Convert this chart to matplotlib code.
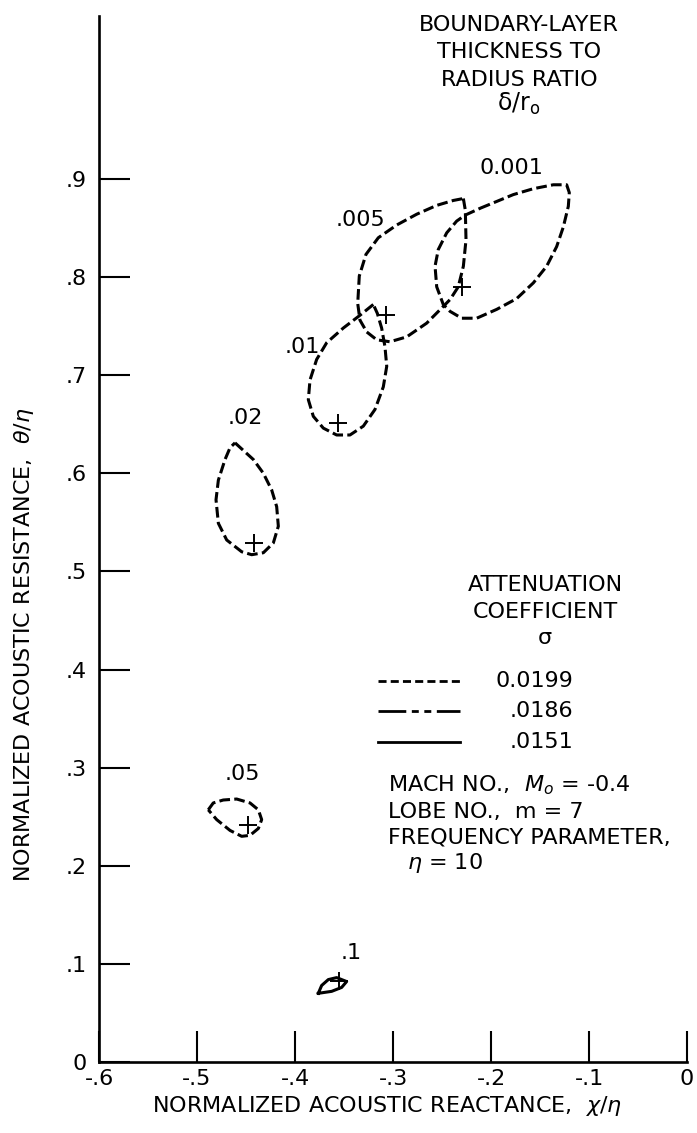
import matplotlib
matplotlib.use('Agg')
import matplotlib.pyplot as plt
import numpy as np

plt.rcParams['font.family'] = ['DejaVu Sans']
plt.rcParams['mathtext.fontset'] = 'dejavusans'

# ---- data (normalized reactance x, resistance y) ----
lobe_0001_x = [-0.2112, -0.1942, -0.1772, -0.1568, -0.1364, -0.1228, -0.1201, -0.1211,
               -0.1262, -0.1330, -0.1432, -0.1568, -0.1738, -0.1942, -0.2146, -0.2299,
               -0.2418, -0.2487, -0.2554, -0.2571, -0.2538, -0.2452, -0.2350, -0.2265]
lobe_0001_y = [0.870, 0.877, 0.884, 0.890, 0.894, 0.894, 0.886, 0.872,
               0.851, 0.831, 0.811, 0.794, 0.778, 0.767, 0.758, 0.758,
               0.765, 0.772, 0.790, 0.811, 0.828, 0.845, 0.857, 0.863]

lobe_005_x = [-0.2282, -0.2262, -0.2255, -0.2282, -0.2334, -0.2418, -0.2487, -0.2656,
              -0.2860, -0.3031, -0.3166, -0.3268, -0.3337, -0.3360, -0.3344, -0.3276,
              -0.3150, -0.2962, -0.2758, -0.2554, -0.2385]
lobe_005_y = [0.880, 0.868, 0.838, 0.811, 0.790, 0.777, 0.770, 0.753,
              0.739, 0.734, 0.736, 0.744, 0.756, 0.773, 0.801, 0.823,
              0.840, 0.853, 0.864, 0.873, 0.878]

lobe_01_x = [-0.3201, -0.3337, -0.3507, -0.3677, -0.3779, -0.3847, -0.3864, -0.3813,
             -0.3711, -0.3575, -0.3439, -0.3303, -0.3184, -0.3099, -0.3064, -0.3082,
             -0.3116, -0.3160]
lobe_01_y = [0.772, 0.761, 0.748, 0.733, 0.716, 0.695, 0.675, 0.658,
             0.646, 0.639, 0.639, 0.648, 0.665, 0.688, 0.709, 0.729,
             0.748, 0.763]

lobe_02_x = [-0.4612, -0.4425, -0.4323, -0.4238, -0.4187, -0.4170, -0.4221, -0.4323,
             -0.4442, -0.4544, -0.4697, -0.4782, -0.4806, -0.4782, -0.4714, -0.4663]
lobe_02_y = [0.631, 0.614, 0.600, 0.583, 0.566, 0.546, 0.529, 0.519,
             0.517, 0.520, 0.532, 0.549, 0.573, 0.593, 0.614, 0.626]

lobe_05_x = [-0.4885, -0.4834, -0.4732, -0.4595, -0.4459, -0.4374, -0.4340, -0.4374,
             -0.4459, -0.4544, -0.4663, -0.4799]
lobe_05_y = [0.257, 0.264, 0.267, 0.268, 0.264, 0.257, 0.247, 0.238,
             0.231, 0.230, 0.236, 0.247]

lobe_1_x = [-0.3762, -0.3728, -0.3660, -0.3575, -0.3473, -0.3524, -0.3626]
lobe_1_y = [0.070, 0.078, 0.084, 0.086, 0.082, 0.076, 0.072]

opt_x = [-0.230, -0.307, -0.356, -0.442, -0.448, -0.355]
opt_y = [0.790, 0.761, 0.651, 0.529, 0.242, 0.083]

thickness_labels = ['0.001', '.005', '.01', '.02', '.05', '.1']
label_x = [-0.1796, -0.3327, -0.3929, -0.4510, -0.4541, -0.3429]
label_y = [0.911, 0.858, 0.729, 0.656, 0.294, 0.111]

sigma_labels = ['0.0199', '.0186', '.0151']

x_ticks = [-0.6, -0.5, -0.4, -0.3, -0.2, -0.1, 0.0]
x_tick_labels = ['-.6', '-.5', '-.4', '-.3', '-.2', '-.1', '0']
y_ticks = [0.0, 0.1, 0.2, 0.3, 0.4, 0.5, 0.6, 0.7, 0.8, 0.9]
y_tick_labels = ['0', '.1', '.2', '.3', '.4', '.5', '.6', '.7', '.8', '.9']

# ---- figure ----
W, H = 697, 1133
fig = plt.figure(figsize=(W / 100, H / 100), dpi=100)
ax = fig.add_axes([99 / W, 71 / H, 588 / W, 1046 / H])
ax.set_xlim(-0.6, 0.0)
ax.set_ylim(0.0, 1.066)
for s in ['top', 'right']:
    ax.spines[s].set_visible(False)
for s in ['left', 'bottom']:
    ax.spines[s].set_linewidth(1.9)

ax.set_xticks(x_ticks)
ax.set_xticklabels(x_tick_labels)
ax.set_yticks(y_ticks)
ax.set_yticklabels(y_tick_labels)
ax.tick_params(direction='in', length=22, width=1.5, labelsize=16)
ax.tick_params(axis='x', pad=5)
ax.tick_params(axis='y', pad=9)

dash = (0, (3.5, 1.4))
lobes = [(lobe_0001_x, lobe_0001_y), (lobe_005_x, lobe_005_y), (lobe_01_x, lobe_01_y),
         (lobe_02_x, lobe_02_y), (lobe_05_x, lobe_05_y)]
for lx, ly in lobes:
    ax.plot(np.append(lx, lx[0]), np.append(ly, ly[0]), color='black', lw=2.2, ls=dash)
ax.plot(np.append(lobe_1_x, lobe_1_x[0]), np.append(lobe_1_y, lobe_1_y[0]),
        color='black', lw=2.2, ls='-')

ax.plot(opt_x, opt_y, ls='none', marker='+', ms=13, mew=1.4, color='black')

fs = 16
for t, x, y in zip(thickness_labels, label_x, label_y):
    ax.text(x, y, t, fontsize=fs, ha='center', va='center')


def ftext(px, py, s, **kw):
    fig.text(px / W, 1 - py / H, s, **kw)


ftext(519, 25, 'BOUNDARY-LAYER', fontsize=fs, ha='center', va='center')
ftext(519, 52, 'THICKNESS TO', fontsize=fs, ha='center', va='center')
ftext(519, 80, 'RADIUS RATIO', fontsize=fs, ha='center', va='center')
ftext(519, 104, r'$\mathrm{\delta/r_o}$', fontsize=fs + 1, ha='center', va='center')

ftext(545, 585, 'ATTENUATION', fontsize=fs, ha='center', va='center')
ftext(545, 612, 'COEFFICIENT', fontsize=fs, ha='center', va='center')
ftext(545, 638, r'$\mathrm{\sigma}$', fontsize=fs, ha='center', va='center')

leg_y = [681, 711, 742]
leg_styles = [(0, (2.9, 1.5)), (0, (10, 2, 2.5, 2, 2.5, 2)), '-']
for yy, st, lab in zip(leg_y, leg_styles, sigma_labels):
    fig.add_artist(plt.Line2D([378 / W, 460 / W], [1 - yy / H, 1 - yy / H],
                              color='black', lw=2.0, ls=st))
    ftext(573, yy, lab, fontsize=fs, ha='right', va='center')

ftext(388, 785, r'MACH NO.,  $M_o$ = -0.4', fontsize=fs, ha='left', va='center')
ftext(388, 812, 'LOBE NO.,  m = 7', fontsize=fs, ha='left', va='center')
ftext(388, 837, 'FREQUENCY PARAMETER,', fontsize=fs, ha='left', va='center')
ftext(407, 863, r'$\eta$ = 10', fontsize=fs, ha='left', va='center')

ftext(387, 1106, r'NORMALIZED ACOUSTIC REACTANCE,  $\chi/\eta$', fontsize=fs,
      ha='center', va='center')
ftext(24, 645, r'NORMALIZED ACOUSTIC RESISTANCE,  $\theta/\eta$', fontsize=fs,
      ha='center', va='center', rotation=90)

fig.savefig('out.png', dpi=100)
